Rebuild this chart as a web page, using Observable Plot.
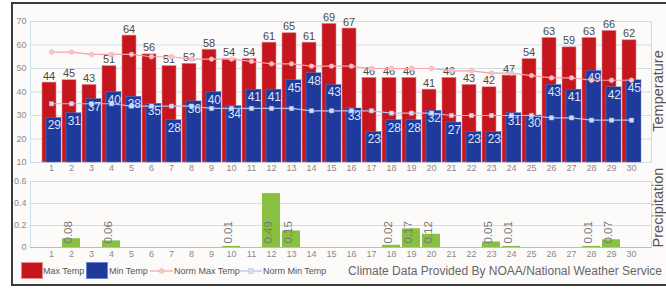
<!DOCTYPE html>
<html>
<head>
<meta charset="utf-8">
<script src="https://cdn.jsdelivr.net/npm/d3@7"></script>
<script src="https://cdn.jsdelivr.net/npm/@observablehq/plot@0.6"></script>
<style>
  html, body { margin: 0; padding: 0; background: #fff; }
  body { width: 666px; height: 291px; position: relative; overflow: hidden; font-family: "Liberation Sans", Arial, sans-serif; }
  #frame { position: absolute; left: 11px; top: 2px; width: 670px; height: 280px; border: 2px solid #3a3a3a; border-right: none; background: #fdfbfa; }
  .abs { position: absolute; }
  .leg { position: absolute; font-size: 9px; color: #555; line-height: 16px; top: 263px; white-space: nowrap; }
  .sw { position: absolute; top: 262px; width: 20px; height: 15px; }
  #caption { position: absolute; right: 4px; top: 264px; font-size: 12px; color: #666; white-space: nowrap; }
</style>
</head>
<body>
<div id="frame"></div>
<div id="temp" class="abs" style="left:0;top:0"></div>
<div id="prec" class="abs" style="left:0;top:160px"></div>
<div id="legend"></div>
<div id="caption">Climate Data Provided By NOAA/National Weather Service</div>
<script>
const days = [1,2,3,4,5,6,7,8,9,10,11,12,13,14,15,16,17,18,19,20,21,22,23,24,25,26,27,28,29,30];
const maxTemp = [44,45,43,51,64,56,51,52,58,54,54,61,65,61,69,67,46,46,46,41,46,43,42,47,54,63,59,63,66,62];
const minTemp = [29,31,37,40,38,35,28,36,40,34,41,41,45,48,43,33,23,28,28,32,27,23,23,31,30,43,41,49,42,45];
const normMax = [57,57,56,56,56,55,55,54,54,54,53,52,52,51,51,51,50,50,50,50,49,49,48,48,47,46,46,45,45,45];
const normMin = [35,35,35,35,34,34,34,34,33,33,33,33,33,32,32,32,32,31,31,31,30,30,30,30,30,29,29,28,28,28];
const precip = [0,0.08,0,0.06,0,0,0,0,0,0.01,0,0.49,0.15,0,0,0,0,0.02,0.17,0.12,0,0,0.05,0.01,0,0,0,0.01,0.07,0];
const tempTicks = [10,20,30,40,50,60,70];
const precTicks = [0,0.2,0.4,0.6];
const seriesNames = ["Max Temp","Min Temp","Norm Max Temp","Norm Min Temp"];

const C = {
  red: "#c5161d", redEdge: "#e8898c",
  blue: "#1e3a9b", blueEdge: "#6f86d6",
  normMax: "#f2a4aa", normMaxDot: "#f8c6c8",
  normMin: "#b3bfe9", normMinDot: "#d6dcf4",
  green: "#88c13f", grid: "#cadeec", tick: "#8a8a8a"
};

const rows = days.map((d, i) => ({day: d, max: maxTemp[i], min: minTemp[i], nmax: normMax[i], nmin: normMin[i], p: precip[i]}));
const font = "'Liberation Sans', Arial, sans-serif";

const temp = Plot.plot({
  width: 666, height: 175,
  marginLeft: 30, marginRight: 15, marginTop: 21, marginBottom: 13,
  style: {background: "transparent", fontFamily: font, fontSize: "9px", color: C.tick, overflow: "visible"},
  x: {type: "band", domain: days, padding: 0, tickSize: 0, tickPadding: 2, label: null},
  y: {domain: [10, 70], ticks: tempTicks, tickSize: 0, tickPadding: 4, label: null},
  marks: [
    Plot.ruleY(tempTicks, {stroke: C.grid, strokeWidth: 1}),
    Plot.frame({stroke: C.grid}),
    Plot.barY(rows, {x: "day", y1: 10, y2: "max", fill: C.red, stroke: C.redEdge, strokeWidth: 0.6, insetLeft: 1, insetRight: 5}),
    Plot.barY(rows, {x: "day", y1: 10, y2: "min", fill: C.blue, stroke: C.blueEdge, strokeWidth: 0.4, insetLeft: 5, insetRight: 0}),
    Plot.text(rows, {x: "day", y: "max", text: "max", lineAnchor: "bottom", dy: -3, dx: -2.5, fill: "#4a4a4a", fontSize: 11}),
    Plot.text(rows, {x: "day", y: "min", text: "min", lineAnchor: "top", dy: 3, dx: 2.8, fill: "#dfe3f8", fontSize: 12}),
    Plot.line(rows, {x: "day", y: "nmax", stroke: C.normMax, strokeWidth: 1.2}),
    Plot.dot(rows, {x: "day", y: "nmax", r: 2.4, fill: C.normMaxDot, stroke: C.normMax, strokeWidth: 0.5}),
    Plot.line(rows, {x: "day", y: "nmin", stroke: C.normMin, strokeWidth: 1.2}),
    Plot.dot(rows, {x: "day", y: "nmin", r: 2.4, symbol: "square", fill: C.normMinDot, stroke: C.normMin, strokeWidth: 0.5}),
    Plot.text(["Temperature"], {frameAnchor: "right", textAnchor: "middle", rotate: -90, dx: 7, dy: -1, fill: "#555", fontSize: 14.5})
  ]
});
document.getElementById("temp").appendChild(temp);

const prec = Plot.plot({
  width: 666, height: 100,
  marginLeft: 30, marginRight: 15, marginTop: 21, marginBottom: 13,
  style: {background: "transparent", fontFamily: font, fontSize: "9px", color: C.tick, overflow: "visible"},
  x: {type: "band", domain: days, padding: 0, tickSize: 0, tickPadding: 3, label: null},
  y: {domain: [0, 0.6], ticks: precTicks, tickSize: 0, tickPadding: 4, label: null, tickFormat: d => d === 0 ? "0" : d.toFixed(1)},
  marks: [
    Plot.ruleY(precTicks, {stroke: C.grid, strokeWidth: 1}),
    Plot.frame({stroke: C.grid}),
    Plot.barY(rows, {x: "day", y: "p", fill: C.green, insetLeft: 1, insetRight: 1}),
    Plot.ruleY([0], {stroke: "#a9d37a", strokeWidth: 1.2}),
    Plot.text(rows.filter(r => r.p > 0), {x: "day", y: () => 0, text: r => r.p.toFixed(2), rotate: -90, textAnchor: "start", dy: -4, dx: -3, fill: "#777", fontSize: 11.5}),
    Plot.text(["Precipitation"], {frameAnchor: "right", textAnchor: "middle", rotate: -90, dx: 7, dy: -7, fill: "#555", fontSize: 14.5})
  ]
});
document.getElementById("prec").appendChild(prec);

// Legend
const legend = document.getElementById("legend");
function add(html) { legend.insertAdjacentHTML("beforeend", html); }
add(`<div class="sw" style="left:21px;background:${C.red};border:1px solid ${C.redEdge}"></div>`);
add(`<div class="leg" style="left:43px">${seriesNames[0]}</div>`);
add(`<div class="sw" style="left:86px;background:${C.blue};border:1px solid ${C.blueEdge}"></div>`);
add(`<div class="leg" style="left:109px">${seriesNames[1]}</div>`);
add(`<svg class="abs" style="left:150px;top:264px" width="23" height="14"><line x1="0" x2="23" y1="7" y2="7" stroke="${C.normMax}" stroke-width="1.2"/><circle cx="11.5" cy="7" r="2.4" fill="${C.normMaxDot}" stroke="${C.normMax}" stroke-width="0.5"/></svg>`);
add(`<div class="leg" style="left:174px">${seriesNames[2]}</div>`);
add(`<svg class="abs" style="left:240px;top:264px" width="22" height="14"><line x1="0" x2="22" y1="7" y2="7" stroke="${C.normMin}" stroke-width="1.2"/><rect x="8.6" y="4.6" width="4.8" height="4.8" fill="${C.normMinDot}" stroke="${C.normMin}" stroke-width="0.5"/></svg>`);
add(`<div class="leg" style="left:263px">${seriesNames[3]}</div>`);
</script>
</body>
</html>
